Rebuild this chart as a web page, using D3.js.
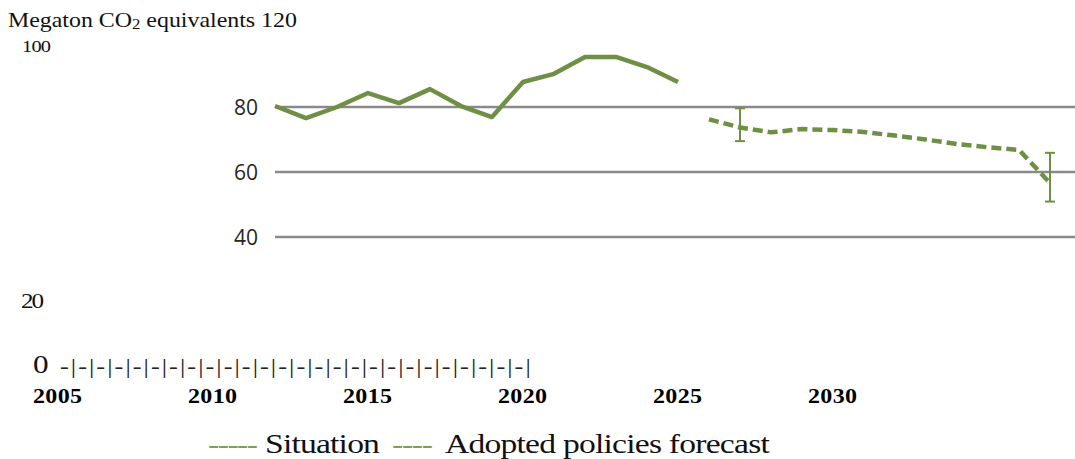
<!DOCTYPE html>
<html>
<head>
<meta charset="utf-8">
<script src="https://cdn.jsdelivr.net/npm/d3@7/dist/d3.min.js"></script>
<style>
  html, body { margin: 0; padding: 0; background: #fff; }
  svg { display: block; }
</style>
</head>
<body>
<svg id="chart" width="1075" height="459"></svg>
<script>
// ---- data ----
const situationYears = [2010, 2011, 2012, 2013, 2014, 2015, 2016, 2017, 2018, 2019, 2020, 2021, 2022, 2023];
const situationValues = [80.3, 76.6, 80.0, 84.3, 81.2, 85.5, 80.3, 76.9, 87.7, 90.2, 95.4, 95.4, 92.3, 87.7];
const forecastYears = [2024, 2025, 2026, 2027, 2028, 2029, 2030, 2031, 2032, 2033, 2034, 2035];
const forecastValues = [76.2, 73.7, 72.2, 73.2, 72.9, 72.3, 71.2, 70.0, 68.6, 67.6, 66.8, 56.6];
const errorYears = [2025, 2035];
const errorLow = [69.5, 50.9];
const errorHigh = [79.6, 65.9];
const gridTicks = [80, 60, 40];
const yTickLabels = ["120", "100", "20", "0"];
const xTickLabels = [2005, 2010, 2015, 2020, 2025, 2030];
const tickMarkCount = 26;
const yTitle = "Megaton CO";
const legendLabels = ["Situation", "Adopted policies forecast"];

// ---- setup ----
const svg = d3.select("#chart");
const green = "#6f8f45";
const serif = "'Liberation Serif', 'Times New Roman', serif";

const x = d3.scaleLinear().domain([2010, 2035]).range([275, 1050]);
const y = d3.scaleLinear().domain([40, 80]).range([237, 107]);

// helper: serif text stretched 1.2x horizontally, letter-spaced to a target ink width
function fitText(sel, left, base, width) {
  const sx = 1.2;
  const n = sel.text().length;
  const w = sel.node().getComputedTextLength();
  const ls = n > 1 ? (width / sx - w) / (n - 1) : 0;
  sel.attr("letter-spacing", ls);
  sel.attr("transform", `translate(${left},${base}) scale(${sx},1)`);
  return sel;
}

// ---- chart image part ----
const g = svg.append("g");
g.selectAll("line.grid").data(gridTicks).join("line")
  .attr("class", "grid")
  .attr("x1", 275).attr("x2", 1075)
  .attr("y1", d => y(d)).attr("y2", d => y(d))
  .attr("stroke", "#8a8a8a").attr("stroke-width", 2.5);

g.selectAll("text.ylab").data(gridTicks).join("text")
  .attr("class", "ylab")
  .attr("x", 258).attr("y", d => y(d))
  .attr("text-anchor", "end").attr("dominant-baseline", "central")
  .attr("font-family", "'Open Sans', sans-serif").attr("font-size", 21)
  .attr("fill", "#262626")
  .text(d => d);

const line = d3.line().x(d => x(d[0])).y(d => y(d[1]));

g.append("path")
  .datum(d3.zip(situationYears, situationValues))
  .attr("d", line)
  .attr("fill", "none").attr("stroke", green)
  .attr("stroke-width", 4.5).attr("stroke-linejoin", "round");

g.append("path")
  .datum(d3.zip(forecastYears, forecastValues))
  .attr("d", line)
  .attr("fill", "none").attr("stroke", green)
  .attr("stroke-width", 4.5).attr("stroke-dasharray", "10,5");

const eb = g.selectAll("g.err").data(d3.zip(errorYears, errorLow, errorHigh)).join("g").attr("class", "err");
eb.append("line")
  .attr("x1", d => x(d[0])).attr("x2", d => x(d[0]))
  .attr("y1", d => y(d[1])).attr("y2", d => y(d[2]))
  .attr("stroke", green).attr("stroke-width", 2);
eb.append("line")
  .attr("x1", d => x(d[0]) - 5).attr("x2", d => x(d[0]) + 5)
  .attr("y1", d => y(d[1])).attr("y2", d => y(d[1]))
  .attr("stroke", green).attr("stroke-width", 2);
eb.append("line")
  .attr("x1", d => x(d[0]) - 5).attr("x2", d => x(d[0]) + 5)
  .attr("y1", d => y(d[2])).attr("y2", d => y(d[2]))
  .attr("stroke", green).attr("stroke-width", 2);

// ---- serif overlay text ----
const title = svg.append("text").attr("font-family", serif).attr("font-size", 20).attr("fill", "#111")
  .attr("transform", "translate(8,27) scale(1.2,1)");
title.append("tspan").text(yTitle);
title.append("tspan").attr("font-size", 14).attr("dy", 2).text("2");
title.append("tspan").attr("dy", -2).text(" equivalents " + yTickLabels[0]);
{
  const w = title.node().getComputedTextLength();
  title.attr("transform", `translate(8,27) scale(${289 / w},1)`);
}

fitText(svg.append("text").attr("font-family", serif).attr("font-size", 17).attr("fill", "#111").text(yTickLabels[1]), 22, 52, 29);
fitText(svg.append("text").attr("font-family", serif).attr("font-size", 21).attr("fill", "#111").text(yTickLabels[2]), 21, 308, 23);
fitText(svg.append("text").attr("font-family", serif).attr("font-size", 26).attr("fill", "#111").text(yTickLabels[3]), 33, 373, 15);
fitText(svg.append("text").attr("font-family", serif).attr("font-size", 22).attr("fill", "#222").text("-|".repeat(tickMarkCount)), 60, 373, 471);

const xl = d3.scaleLinear().domain([2005, 2030]).range([33, 808]);
svg.selectAll("text.xlab").data(xTickLabels).join("text")
  .attr("class", "xlab")
  .attr("font-family", serif).attr("font-size", 20).attr("font-weight", "bold").attr("fill", "#000")
  .text(d => d)
  .each(function(d) { fitText(d3.select(this), xl(d), 403, 49); });

// ---- legend ----
fitText(svg.append("text").attr("font-family", serif).attr("font-size", 28).attr("fill", "#7aa34c").text("-----"), 208, 453, 50);
fitText(svg.append("text").attr("font-family", serif).attr("font-size", 28).attr("fill", "#111").text(legendLabels[0]), 265, 453, 115);
fitText(svg.append("text").attr("font-family", serif).attr("font-size", 28).attr("fill", "#7aa34c").text("----"), 392, 453, 41);
fitText(svg.append("text").attr("font-family", serif).attr("font-size", 28).attr("fill", "#111").text(legendLabels[1]), 445, 453, 325);
</script>
</body>
</html>
